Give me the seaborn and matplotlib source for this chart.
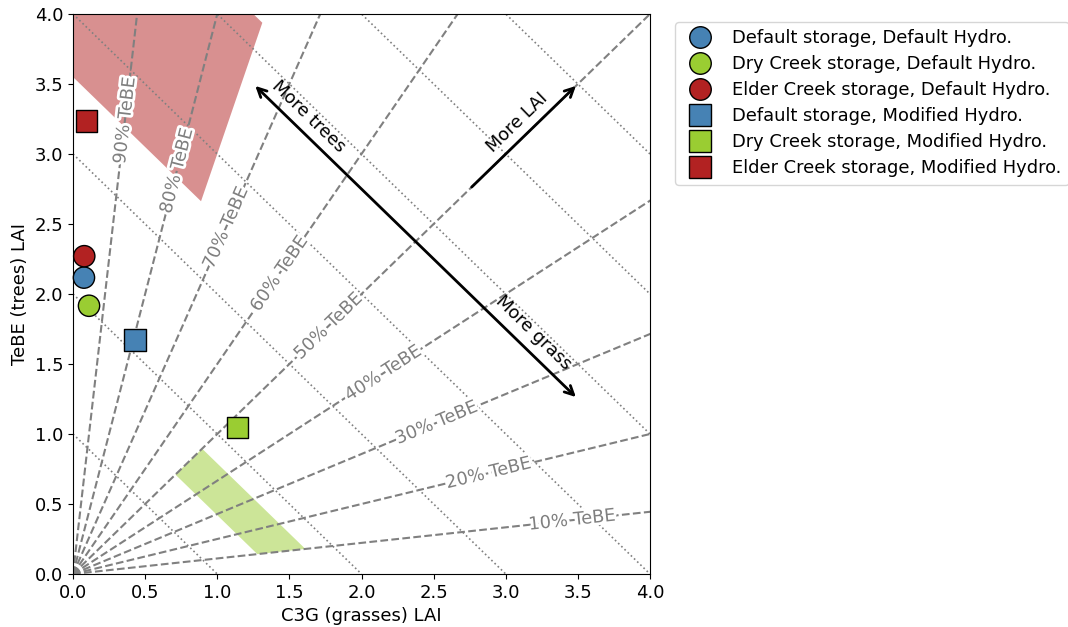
import numpy as np
import pandas as pd
import matplotlib
matplotlib.use("Agg")
import matplotlib.pyplot as plt
import matplotlib.patheffects as pe
from matplotlib.lines import Line2D
import seaborn as sns

# Simulated LAI for each storage / hydrology configuration
labels = [
    "Default storage, Default Hydro.",
    "Dry Creek storage, Default Hydro.",
    "Elder Creek storage, Default Hydro.",
    "Default storage, Modified Hydro.",
    "Dry Creek storage, Modified Hydro.",
    "Elder Creek storage, Modified Hydro.",
]
c3g_lai = [0.076, 0.111, 0.078, 0.43, 1.142, 0.092]
tebe_lai = [2.117, 1.916, 2.27, 1.671, 1.048, 3.236]
colors = ["steelblue", "yellowgreen", "firebrick", "steelblue", "yellowgreen", "firebrick"]
markers = ["o", "o", "o", "s", "s", "s"]

# Reference iso-lines: TeBE fraction of total LAI and total LAI
tebe_fracs = [0.1, 0.2, 0.3, 0.4, 0.5, 0.6, 0.7, 0.8, 0.9]
frac_label_x = [3.46, 2.88, 2.52, 2.15, 1.77, 1.43, 1.06, 0.72, 0.36]
total_lai_levels = [1, 2, 3, 4, 5, 6, 7]

# Observed ranges (fraction min/max, total LAI min/max)
obs_ranges = [
    dict(frac=(0.75, 1.0), total=(3.55, 5.25), color="firebrick"),
    dict(frac=(0.1, 0.5), total=(1.42, 1.79), color="yellowgreen"),
]

fig = plt.figure(figsize=(10.68, 6.27), dpi=100)
ax = fig.add_axes([73 / 1068, 53 / 627, 577 / 1068, 560 / 627])
ax.set_xlim(0, 4)
ax.set_ylim(0, 4)

# Shaded observed ranges in (grass, tree) space
for r in obs_ranges:
    f0, f1 = r["frac"]
    t0, t1 = r["total"]
    pts = [(t0 * (1 - f0), t0 * f0), (t1 * (1 - f0), t1 * f0),
           (t1 * (1 - f1), t1 * f1), (t0 * (1 - f1), t0 * f1)]
    ax.fill([p[0] for p in pts], [p[1] for p in pts], color=r["color"],
            alpha=0.5, lw=0, zorder=1)

# Total LAI iso-lines
for c in total_lai_levels:
    ax.plot([0, c], [c, 0], ls=":", color="gray", lw=1.2, zorder=2)

# TeBE fraction iso-lines from the origin
far = 10.0
for f in tebe_fracs:
    ax.plot([0, far * (1 - f)], [0, far * f], ls="--", color="gray", lw=1.5, zorder=2)

fig.canvas.draw()


def disp_angle(dx, dy):
    p0 = ax.transData.transform((0, 0))
    p1 = ax.transData.transform((dx, dy))
    return np.degrees(np.arctan2(p1[1] - p0[1], p1[0] - p0[0]))


for f, lx in zip(tebe_fracs, frac_label_x):
    ly = lx * f / (1 - f)
    ax.text(lx, ly, f"{int(round(f * 100))}% TeBE", color="gray", fontsize=12.8,
            rotation=disp_angle(1 - f, f), ha="center", va="center",
            rotation_mode="anchor", zorder=4,
            path_effects=[pe.withStroke(linewidth=4, foreground="white")])

# Direction arrows
ax.annotate("", xy=(1.25, 3.5), xytext=(3.5, 1.25),
            arrowprops=dict(arrowstyle="<->", lw=2, color="black", mutation_scale=16),
            zorder=5)
ax.annotate("", xy=(3.5, 3.5), xytext=(2.75, 2.75),
            arrowprops=dict(arrowstyle="->", lw=2, color="black", mutation_scale=16),
            zorder=5)
ang_down = disp_angle(1, -1)
ang_up = disp_angle(1, 1)
ax.text(1.63, 3.27, "More trees", fontsize=12.8, rotation=ang_down, ha="center",
        va="center", rotation_mode="anchor", zorder=5)
ax.text(3.19, 1.725, "More grass", fontsize=12.8, rotation=ang_down, ha="center",
        va="center", rotation_mode="anchor", zorder=5)
ax.text(3.08, 3.225, "More LAI", fontsize=12.8, rotation=ang_up, ha="center",
        va="center", rotation_mode="anchor", zorder=5)

# Model results
df = pd.DataFrame({"C3G": c3g_lai, "TeBE": tebe_lai, "run": labels})
sns.scatterplot(data=df, x="C3G", y="TeBE", hue="run", style="run",
                palette=dict(zip(labels, colors)), markers=dict(zip(labels, markers)),
                s=235, edgecolor="black", linewidth=1, legend=False, ax=ax, zorder=6,
                clip_on=False)

handles = [Line2D([], [], ls="none", marker=m, markersize=15.5, markerfacecolor=c,
                  markeredgecolor="black", markeredgewidth=1)
           for m, c in zip(markers, colors)]
ax.legend(handles, labels, loc="upper left", bbox_to_anchor=(675 / 1068, 1 - 22 / 627),
          bbox_transform=fig.transFigure, borderaxespad=0, fontsize=12.9,
          labelspacing=0.45, handletextpad=0.8)

ax.set_xlabel("C3G (grasses) LAI", fontsize=13)
ax.set_ylabel("TeBE (trees) LAI", fontsize=13)
ax.tick_params(labelsize=13)

fig.savefig("out.png", dpi=100)
